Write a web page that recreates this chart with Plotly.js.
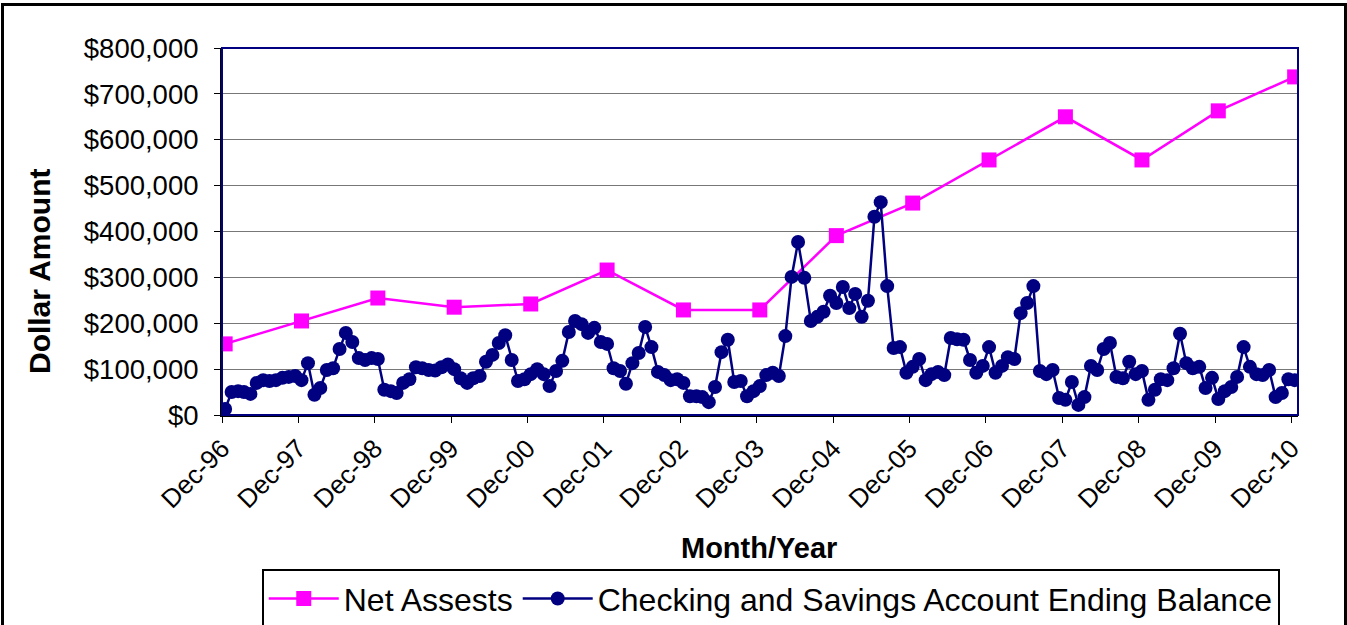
<!DOCTYPE html>
<html>
<head>
<meta charset="utf-8">
<script src="https://cdn.plot.ly/plotly-3.0.1.min.js"></script>
<style>
  html, body { margin:0; padding:0; background:#fff; overflow:hidden; }
  #wrap { position:relative; width:1347px; height:625px; }
  #chart { width:1347px; height:625px; }
  #frame { position:absolute; left:1px; top:3px; width:1340px; height:640px; border:3px solid #000; pointer-events:none; }
</style>
</head>
<body>
<div id="wrap">
  <div id="chart"></div>
  <div id="frame"></div>
</div>
<script>
// Year-end labels (Dec-96 .. Dec-10)
const yearLabels = ['Dec-96','Dec-97','Dec-98','Dec-99','Dec-00','Dec-01','Dec-02','Dec-03','Dec-04','Dec-05','Dec-06','Dec-07','Dec-08','Dec-09','Dec-10'];
const yearStarts = [1996,1997,1998,1999,2000,2001,2002,2003,2004,2005,2006,2007,2008,2009,2010];

// Net assets at each December
const netAssets = [155000,205000,255000,235000,242000,316000,229000,229000,391000,462000,556000,650000,556000,663000,737000];

// Monthly checking & savings ending balance, Dec-96 .. Dec-10 (169 months)
const balance = [
  13000,50000,52000,50000,46000,70000,76000,74000,76000,81000,83000,85000,
  76000,113000,44000,59000,98000,102000,144000,179000,159000,124000,120000,124000,
  122000,55000,52000,48000,70000,78000,104000,102000,98000,97000,104000,110000,
  100000,80000,70000,80000,85000,116000,131000,157000,174000,120000,74000,78000,
  89000,100000,89000,63000,96000,118000,181000,205000,198000,179000,190000,159000,
  155000,102000,96000,68000,113000,135000,192000,148000,94000,87000,76000,78000,
  70000,41000,41000,39000,28000,61000,137000,164000,72000,74000,41000,52000,
  63000,87000,92000,85000,172000,301000,377000,299000,205000,214000,225000,260000,
  244000,279000,233000,264000,214000,249000,432000,464000,281000,146000,148000,92000,
  105000,122000,76000,89000,94000,87000,168000,165000,164000,120000,92000,107000,
  148000,92000,107000,126000,122000,222000,244000,281000,96000,89000,98000,37000,
  33000,72000,22000,39000,107000,98000,144000,157000,83000,80000,116000,89000,
  96000,33000,55000,78000,76000,102000,177000,113000,102000,105000,59000,81000,
  35000,52000,61000,83000,148000,105000,89000,87000,98000,39000,48000,78000,
  76000
];

const yTitle = 'Dollar Amount';
const xTitle = 'Month/Year';

function pad(n){ return (n<10?'0':'')+n; }
// month-centre dates for the monthly series, starting Dec 1996
const monthDates = balance.map((_, i) => {
  const m = 11 + i; const y = 1996 + Math.floor(m/12); const mm = m % 12 + 1;
  return y + '-' + pad(mm) + '-16';
});
const netDates = yearStarts.map(y => y + '-12-16');
const tickDates = yearStarts.map(y => y + '-12-01');

const font = 'Liberation Sans, Arial, sans-serif';

const traces = [
  {
    x: netDates, y: netAssets, name: 'Net Assests', type: 'scatter', mode: 'lines+markers',
    line: {color:'#FF00FF', width:2.5},
    marker: {symbol:'square', size:15, color:'#FF00FF'}
  },
  {
    x: monthDates, y: balance, name: 'Checking and Savings Account Ending Balance', type: 'scatter', mode: 'lines+markers',
    line: {color:'#000080', width:2.5},
    marker: {symbol:'circle', size:14, color:'#000080'}
  }
];

const layout = {
  width:1347, height:625,
  margin:{l:222, r:49, t:48, b:210, autoexpand:false},
  paper_bgcolor:'#fff', plot_bgcolor:'#fff',
  font:{family:font, color:'#000'},
  showlegend:true,
  legend:{
    orientation:'h', x:0.51, xanchor:'center', y:-0.42, yanchor:'top',
    bordercolor:'#000', borderwidth:2, font:{size:32, family:font},
    traceorder:'normal', itemwidth:70
  },
  xaxis:{
    type:'date', range:['1996-12-01','2011-01-01'],
    tickvals: tickDates, ticktext: yearLabels, tickangle:-45,
    tickfont:{size:26, family:font}, ticks:'outside', ticklen:6, tickcolor:'#000',
    showgrid:false, zeroline:false, showline:true, linecolor:'#000', linewidth:2,
    automargin:false
  },
  yaxis:{
    range:[0,800000], dtick:100000, tickprefix:'$', tickformat:',d',
    tickfont:{size:27.5, family:font}, ticks:'outside', ticklen:6, tickcolor:'#000',
    ticklabelstandoff:10,
    showgrid:true, gridcolor:'#777', gridwidth:1, zeroline:false,
    showline:true, linecolor:'#000', linewidth:2,
    automargin:false
  },
  annotations:[
    {text:'<b>'+yTitle+'</b>', xref:'paper', yref:'paper', x:-0.1691, y:0.3924, textangle:-90,
     xanchor:'center', yanchor:'middle', showarrow:false, font:{size:30, family:font}},
    {text:'<b>'+xTitle+'</b>', xref:'paper', yref:'paper', x:0.499, y:-0.3624,
     xanchor:'center', yanchor:'middle', showarrow:false, font:{size:29, family:font}}
  ],
  shapes:[
    {type:'rect', xref:'paper', yref:'paper', x0:0, x1:1, y0:0, y1:1, line:{color:'#000080', width:2}, layer:'above'}
  ]
};

Plotly.newPlot('chart', traces, layout, {displayModeBar:false, staticPlot:true});
</script>
</body>
</html>
